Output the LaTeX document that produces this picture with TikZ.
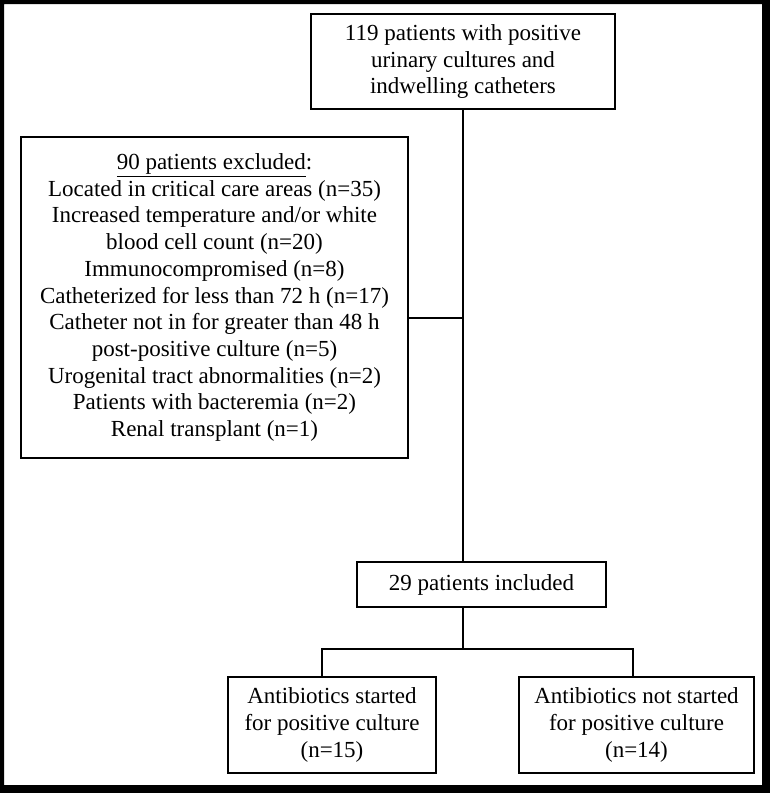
\documentclass[tikz,border=0pt]{standalone}
\usepackage{fontspec}
\setmainfont{Liberation Serif}
\tikzset{
	flowbox/.style={draw=black, line width=2pt, align=center, inner sep=0pt, font=\fontsize{23}{26.7}\selectfont},
	link/.style={line width=2pt}
	}

\begin{document}
\begin{tikzpicture}[x=1pt,y=-1pt]
		\path[use as bounding box] (0,0) rectangle (770,793);
		%% frame
		\fill[even odd rule] (0,0) rectangle (770,793) (4,4) rectangle (762,785);

		%% Boxes
		\draw (463,61.5) node [flowbox, minimum width=304pt, minimum height=95pt] (start) {119 patients with positive\\urinary cultures and\\indwelling catheters};
		\draw (214.5,297.5) node [flowbox, minimum width=387pt, minimum height=321pt] (excl) {\underline{90 patients excluded}:\\Located in critical care areas (n=35)\\Increased temperature and/or white\\blood cell count (n=20)\\Immunocompromised (n=8)\\Catheterized for less than 72 h (n=17)\\Catheter not in for greater than 48 h\\post-positive culture (n=5)\\Urogenital tract abnormalities (n=2)\\Patients with bacteremia (n=2)\\Renal transplant (n=1)};
		\draw (481.5,584.5) node [flowbox, minimum width=249pt, minimum height=45pt] (incl) {29 patients included};
		\draw (332,725) node [flowbox, minimum width=208pt, minimum height=96pt] (abyes) {Antibiotics started\\for positive culture\\(n=15)};
		\draw (636.5,725) node [flowbox, minimum width=235pt, minimum height=96pt] (abno) {Antibiotics not started\\for positive culture\\(n=14)};

		%% Connectors
		\coordinate (join) at (463,318);
		\coordinate (fork) at (463,649);
		\coordinate (forkl) at (322,649);
		\coordinate (forkr) at (633,649);
		\draw[link] (start.south) -- (start.south |- incl.north);
		\draw[link] (join -| excl.east) -- (join);
		\draw[link] (start.south |- incl.south) -- (fork);
		\draw[link] (forkl |- abyes.north) -- (forkl) -- (forkr) -- (forkr |- abno.north);

	\end{tikzpicture}
\end{document}
